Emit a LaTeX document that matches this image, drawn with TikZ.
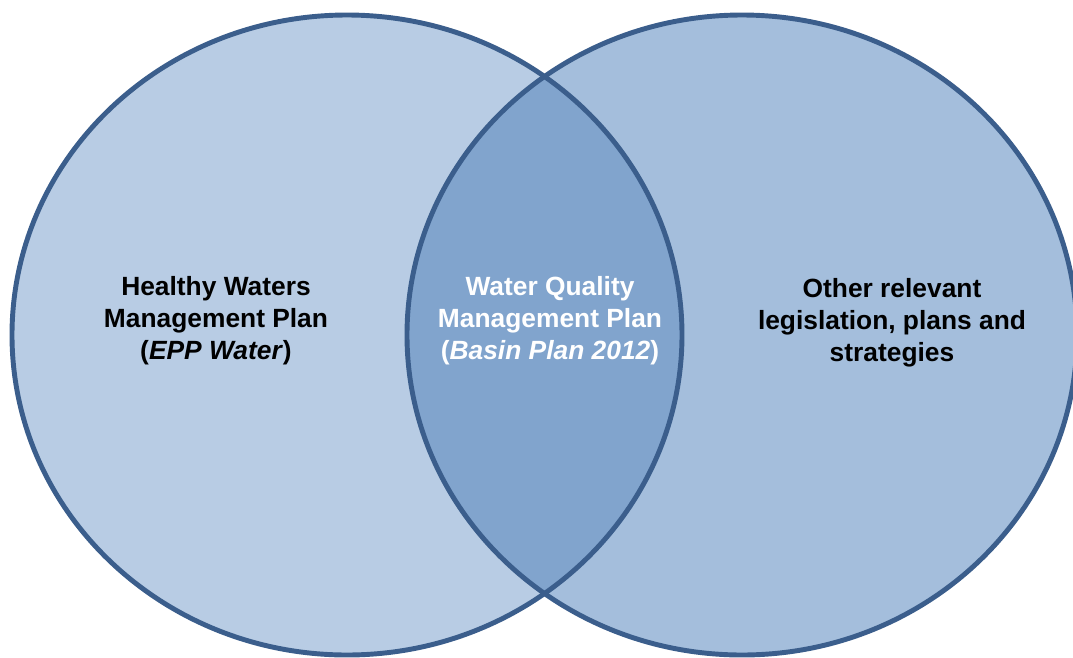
\documentclass[tikz,border=0pt]{standalone}
\usepackage{fontspec}
\setmainfont{Liberation Sans}
\usepackage{xcolor}
\usepackage{tikz}
\usetikzlibrary{positioning}
\definecolor{ringblue}{HTML}{3B5E8C}
\definecolor{leftfill}{HTML}{B8CCE4}
\definecolor{rightfill}{HTML}{A4BEDC}
\definecolor{lensfill}{HTML}{81A4CD}
\tikzset{
  ring/.style    ={draw=ringblue,line width=2.8pt},
  setlabel/.style={align=center,font=\fontsize{15}{18.2}\selectfont\bfseries,inner sep=0pt},
}

\begin{document}
\begin{tikzpicture}[x=0.02cm,y=-0.02cm]
  \useasboundingbox (0,0) rectangle (1073,657);
  \coordinate (cl) at (347,335);
  \coordinate (cr) at (742,335);
  \fill[leftfill]  (cl) ellipse [x radius=335,y radius=320];
  \fill[rightfill] (cr) ellipse [x radius=335,y radius=320];
  \begin{scope} % overlap of the two sets
    \clip (cl) ellipse [x radius=335,y radius=320];
    \fill[lensfill] (cr) ellipse [x radius=335,y radius=320];
  \end{scope}
  \draw[ring] (cl) ellipse [x radius=335,y radius=320];
  \draw[ring] (cr) ellipse [x radius=335,y radius=320];
  \node[setlabel] (hwmp) at (216,321)
    {Healthy Waters\\Management Plan\\(\textit{EPP Water})};
  \node[setlabel,white] (wqmp) at (550,321)
    {Water Quality\\Management Plan\\(\textit{Basin Plan 2012})};
  \node[setlabel] (other) at (892,323)
    {Other relevant\\legislation, plans and\\strategies};
\end{tikzpicture}
\end{document}
